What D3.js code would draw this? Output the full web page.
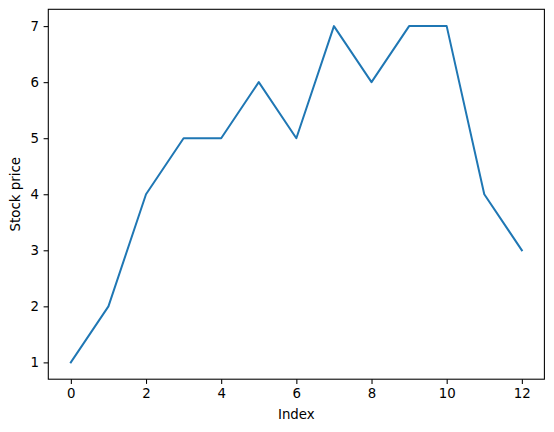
<!DOCTYPE html>
<html>
<head>
<meta charset="utf-8">
<script src="https://cdn.jsdelivr.net/npm/d3@7"></script>
<style>
  body { margin: 0; background: #fff; }
  svg text { font-family: "DejaVu Sans", sans-serif; fill: #000; }
</style>
</head>
<body>
<script>
'use strict';

// values
const indices = [0, 1, 2, 3, 4, 5, 6, 7, 8, 9, 10, 11, 12];
const prices = [1, 2, 4, 5, 5, 6, 5, 7, 6, 7, 7, 4, 3];
const xTicks = [0, 2, 4, 6, 8, 10, 12];
const yTicks = [1, 2, 3, 4, 5, 6, 7];

const width = 554, height = 432;
const plot = { left: 48.3, right: 544.4, top: 9.3, bottom: 379.2 };

const svg = d3.select('body')
  .append('svg')
  .attr('width', width)
  .attr('height', height);

// matplotlib style 5% margins
const xScale = d3.scaleLinear()
  .domain([-0.6, 12.6])
  .range([plot.left, plot.right]);

const yScale = d3.scaleLinear()
  .domain([0.7, 7.3])
  .range([plot.bottom, plot.top]);

// line
const valueLine = d3.line()
  .x((d, i) => xScale(indices[i]))
  .y(d => yScale(d));

svg.append('path')
  .datum(prices)
  .attr('d', valueLine)
  .attr('fill', 'none')
  .attr('stroke', '#1f77b4')
  .attr('stroke-width', 2)
  .attr('stroke-linejoin', 'round')
  .attr('stroke-linecap', 'square');

// axes
const xAxis = d3.axisBottom(xScale)
  .tickValues(xTicks)
  .tickFormat(d3.format('d'))
  .tickSizeInner(4.7)
  .tickSizeOuter(0)
  .tickPadding(4.7);

const yAxis = d3.axisLeft(yScale)
  .tickValues(yTicks)
  .tickFormat(d3.format('d'))
  .tickSizeInner(4.7)
  .tickSizeOuter(0)
  .tickPadding(4.7);

const gx = svg.append('g')
  .attr('transform', 'translate(0,' + plot.bottom + ')')
  .call(xAxis);

const gy = svg.append('g')
  .attr('transform', 'translate(' + plot.left + ',0)')
  .call(yAxis);

[gx, gy].forEach(g => {
  g.select('.domain').remove();
  g.selectAll('line').attr('stroke', '#000').attr('stroke-width', 1.07);
  g.selectAll('text').style('font-size', '13.33px').style('font-family', '"DejaVu Sans", sans-serif');
});

// frame
svg.append('rect')
  .attr('x', plot.left)
  .attr('y', plot.top)
  .attr('width', plot.right - plot.left)
  .attr('height', plot.bottom - plot.top)
  .attr('fill', 'none')
  .attr('stroke', '#000')
  .attr('stroke-width', 1.07);

// axis labels
svg.append('text')
  .attr('x', (plot.left + plot.right) / 2)
  .attr('y', 419)
  .attr('text-anchor', 'middle')
  .style('font-size', '13.33px')
  .text('Index');

svg.append('text')
  .attr('transform', 'translate(20,' + ((plot.top + plot.bottom) / 2) + ')rotate(-90)')
  .attr('text-anchor', 'middle')
  .style('font-size', '13.33px')
  .text('Stock price');
</script>
</body>
</html>
